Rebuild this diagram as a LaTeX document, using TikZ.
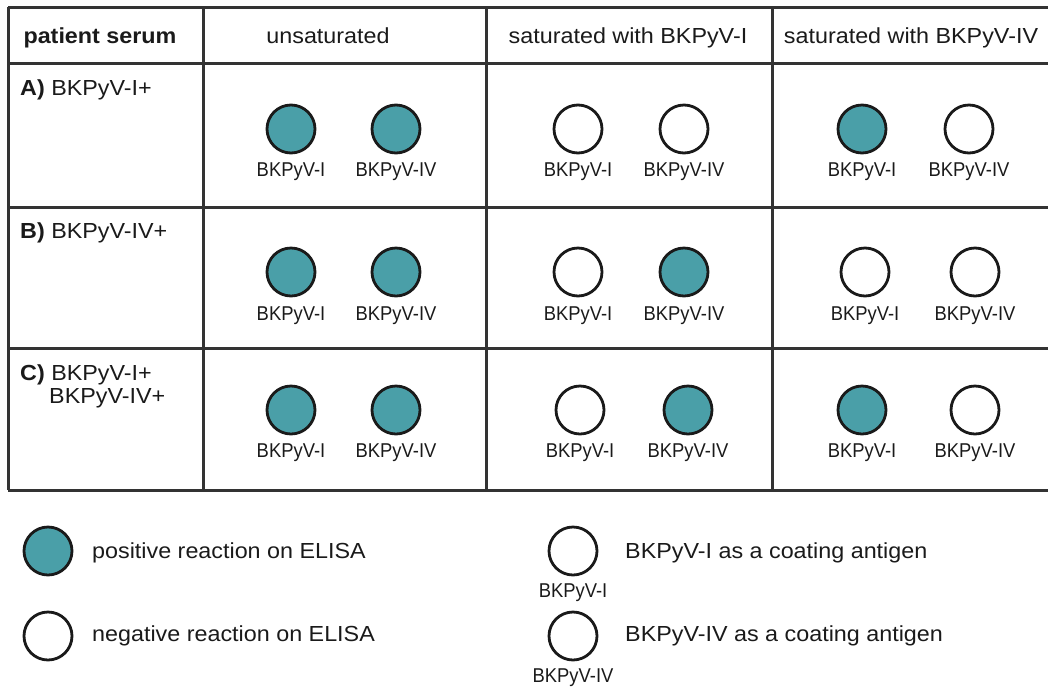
\documentclass[tikz,border=0pt]{standalone}
\usepackage{fontspec}
\setmainfont{Liberation Sans}[FakeStretch=1.07]
\newfontfamily\lblfont{Liberation Sans}[FakeStretch=0.92]
\definecolor{wellteal}{HTML}{4A9FA8}
\definecolor{rule}{HTML}{333333}
\definecolor{ink}{HTML}{1A1A1A}
\begin{document}
\begin{tikzpicture}[x=1pt,y=-1pt,
  gridline/.style={draw=rule,line width=3pt},
  poswell/.style={circle,draw=ink,line width=2.8pt,fill=wellteal,minimum size=48pt,inner sep=0pt},
  negwell/.style={circle,draw=ink,line width=2.8pt,fill=white,minimum size=48pt,inner sep=0pt},
  lbl/.style={anchor=base,inner sep=0pt,text=ink,font=\lblfont\fontsize{20}{22}\selectfont},
  txt/.style={inner sep=0pt,text=ink,font=\fontsize{21.8}{25}\selectfont}]
\useasboundingbox (0,0) rectangle (1048,686);

% table grid
\draw[gridline] (8,7) -- (1048,7);
\draw[gridline] (8,63) -- (1048,63);
\draw[gridline] (8,207) -- (1048,207);
\draw[gridline] (8,348) -- (1048,348);
\draw[gridline] (8,490) -- (1048,490);
\draw[gridline] (8,7) -- (8,490);
\draw[gridline] (203,7) -- (203,490);
\draw[gridline] (486,7) -- (486,490);
\draw[gridline] (772,7) -- (772,490);

% header
\node[txt,anchor=base] (h0) at (100,43) {\bfseries patient serum};
\node[txt,anchor=base] (h1) at (328,43) {unsaturated};
\node[txt,anchor=base] (h2) at (628,43) {saturated with BKPyV-I};
\node[txt,anchor=base] (h3) at (911,43) {saturated with BKPyV-IV};

% row labels
\node[txt,anchor=base west] (ra) at (20,95) {\textbf{A)} BKPyV-I+};
\node[txt,anchor=base west] (rb) at (20,238) {\textbf{B)} BKPyV-IV+};
\node[txt,anchor=base west] (rc) at (20,380) {\textbf{C)} BKPyV-I+};
\node[txt,anchor=base west] (rc2) at (49,403) {BKPyV-IV+};

% row A
\node[poswell] (a11) at (291,129) {};
\node[poswell] (a12) at (396,129) {};
\node[negwell] (a21) at (578,129) {};
\node[negwell] (a22) at (684,129) {};
\node[poswell] (a31) at (862,129) {};
\node[negwell] (a32) at (969,129) {};
% row B
\node[poswell] (b11) at (291,272) {};
\node[poswell] (b12) at (396,272) {};
\node[negwell] (b21) at (578,272) {};
\node[poswell] (b22) at (684,272) {};
\node[negwell] (b31) at (865,272) {};
\node[negwell] (b32) at (975,272) {};
% row C
\node[poswell] (c11) at (291,410) {};
\node[poswell] (c12) at (396,410) {};
\node[negwell] (c21) at (580,410) {};
\node[poswell] (c22) at (688,410) {};
\node[poswell] (c31) at (862,410) {};
\node[negwell] (c32) at (975,410) {};

% antigen labels under the wells
\foreach \r/\dy in {a/47,b/48,c/47}{
  \foreach \c in {1,2,3}{
    \path (\r\c1.center) ++(0,\dy) node[lbl] {BKPyV-I};
    \path (\r\c2.center) ++(0,\dy) node[lbl] {BKPyV-IV};
  }
}

% legend
\node[poswell] (lp) at (48,551) {};
\node[txt,anchor=base west] (lpt) at (92,558) {positive reaction on ELISA};
\node[negwell] (ln) at (48,636) {};
\node[txt,anchor=base west] (lnt) at (92,641) {negative reaction on ELISA};

\node[negwell] (l1) at (573,551) {};
\node[lbl] (l1l) at (573,597) {BKPyV-I};
\node[txt,anchor=base west] (l1t) at (625,558) {BKPyV-I as a coating antigen};
\node[negwell] (l2) at (573,636) {};
\node[lbl] (l2l) at (573,682) {BKPyV-IV};
\node[txt,anchor=base west] (l2t) at (625,641) {BKPyV-IV as a coating antigen};
\end{tikzpicture}
\end{document}
